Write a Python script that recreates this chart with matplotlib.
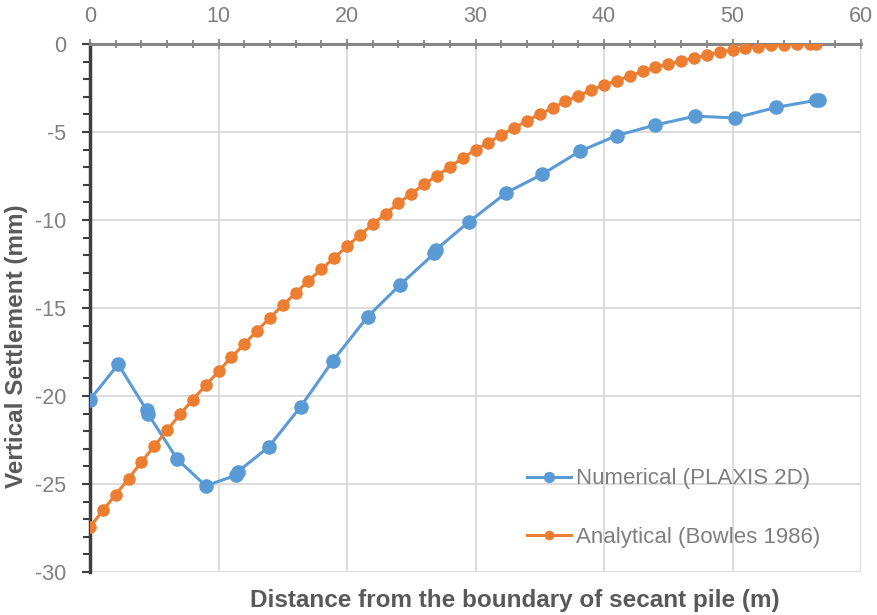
import numpy as np
import matplotlib
matplotlib.use("Agg")
import matplotlib.pyplot as plt
from matplotlib.ticker import MultipleLocator

plt.rcParams['font.family'] = ['Liberation Sans', 'DejaVu Sans']
plt.rcParams['axes.unicode_minus'] = False

# Numerical (PLAXIS 2D)
num_x = [0, 2.2, 4.4, 4.5, 6.8, 9.0, 11.4, 11.5, 13.9, 16.4, 18.9, 21.6, 24.1,
         26.8, 26.9, 29.5, 32.4, 35.2, 38.1, 41.0, 44.0, 47.1, 50.2, 53.4, 56.5, 56.7]
num_y = [-20.2, -18.2, -20.8, -21.0, -23.6, -25.1, -24.5, -24.3, -22.9, -20.6, -18.0,
         -15.5, -13.7, -11.9, -11.7, -10.1, -8.45, -7.4, -6.1, -5.2, -4.6, -4.1, -4.2,
         -3.6, -3.2, -3.2]

# Analytical (Bowles 1986)
ana_x = list(range(0, 57)) + [56.5]
ana_y = [-27.45, -26.5, -25.6, -24.7, -23.75, -22.85, -21.95, -21.05, -20.2, -19.4,
         -18.6, -17.8, -17.05, -16.3, -15.55, -14.85, -14.15, -13.45, -12.8, -12.15,
         -11.5, -10.85, -10.25, -9.65, -9.05, -8.5, -7.98, -7.48, -6.99, -6.48,
         -6.02, -5.6, -5.17, -4.77, -4.38, -3.98, -3.64, -3.26, -2.95, -2.62,
         -2.33, -2.08, -1.82, -1.55, -1.32, -1.14, -0.97, -0.8, -0.63, -0.46,
         -0.34, -0.23, -0.16, -0.08, -0.05, -0.02, 0.0, 0.0]

blue = '#5B9BD5'
orange = '#ED7D31'
txt = '#595959'

fig = plt.figure(figsize=(8.77, 6.15), dpi=100)
ax = fig.add_axes([90/877, 1-572/615, (861-90)/877, (572-44)/615])

ax.plot(num_x, num_y, color=blue, lw=2.2, marker='o', ms=9.5, label='Numerical (PLAXIS 2D)', zorder=3)
ax.plot(ana_x, ana_y, color=orange, lw=2.2, marker='o', ms=8, label='Analytical (Bowles 1986)', zorder=4)

ax.set_xlim(0, 60)
ax.set_ylim(-30, 0)
ax.xaxis.set_major_locator(MultipleLocator(10))
ax.xaxis.set_minor_locator(MultipleLocator(2))
ax.yaxis.set_major_locator(MultipleLocator(5))
ax.yaxis.set_minor_locator(MultipleLocator(1))
ax.xaxis.tick_top()
ax.xaxis.set_label_position('bottom')

ax.grid(True, which='major', color='#D9D9D9', lw=1.3, zorder=0)
ax.set_axisbelow(True)

for s in ['bottom', 'right']:
    ax.spines[s].set_visible(False)
ax.spines['top'].set_color('#868686')
ax.spines['top'].set_linewidth(2.2)
ax.spines['left'].set_color('#404040')
ax.spines['left'].set_linewidth(2.5)

ax.tick_params(axis='x', which='both', direction='inout', colors='#868686', width=1.3,
               labelcolor='#7F7F7F', labelsize=15.5, pad=9)
ax.tick_params(axis='x', which='major', length=7)
ax.tick_params(axis='x', which='minor', length=6)
ax.tick_params(axis='y', which='both', direction='out', colors='#404040', width=1.5,
               labelcolor='#7F7F7F', labelsize=15.5, pad=11)
ax.tick_params(axis='y', which='major', length=6)
ax.tick_params(axis='y', which='minor', length=5)

ax.set_xlabel('Distance from the boundary of secant pile (m)', fontsize=17.5, fontweight='bold', color=txt)
ax.xaxis.set_label_coords(0.551, -0.0316)
ax.set_ylabel('Vertical Settlement (mm)', fontsize=17.5, fontweight='bold', color=txt)
ax.yaxis.set_label_coords(-0.0804, 0.428)

leg = ax.legend(loc='upper left', bbox_to_anchor=(0.555, 0.213), frameon=False, fontsize=16,
                labelcolor='#7F7F7F', handlelength=2.0, handletextpad=0.2, labelspacing=1.7,
                markerscale=0.75, borderaxespad=0)

fig.savefig('out.png', dpi=100)
